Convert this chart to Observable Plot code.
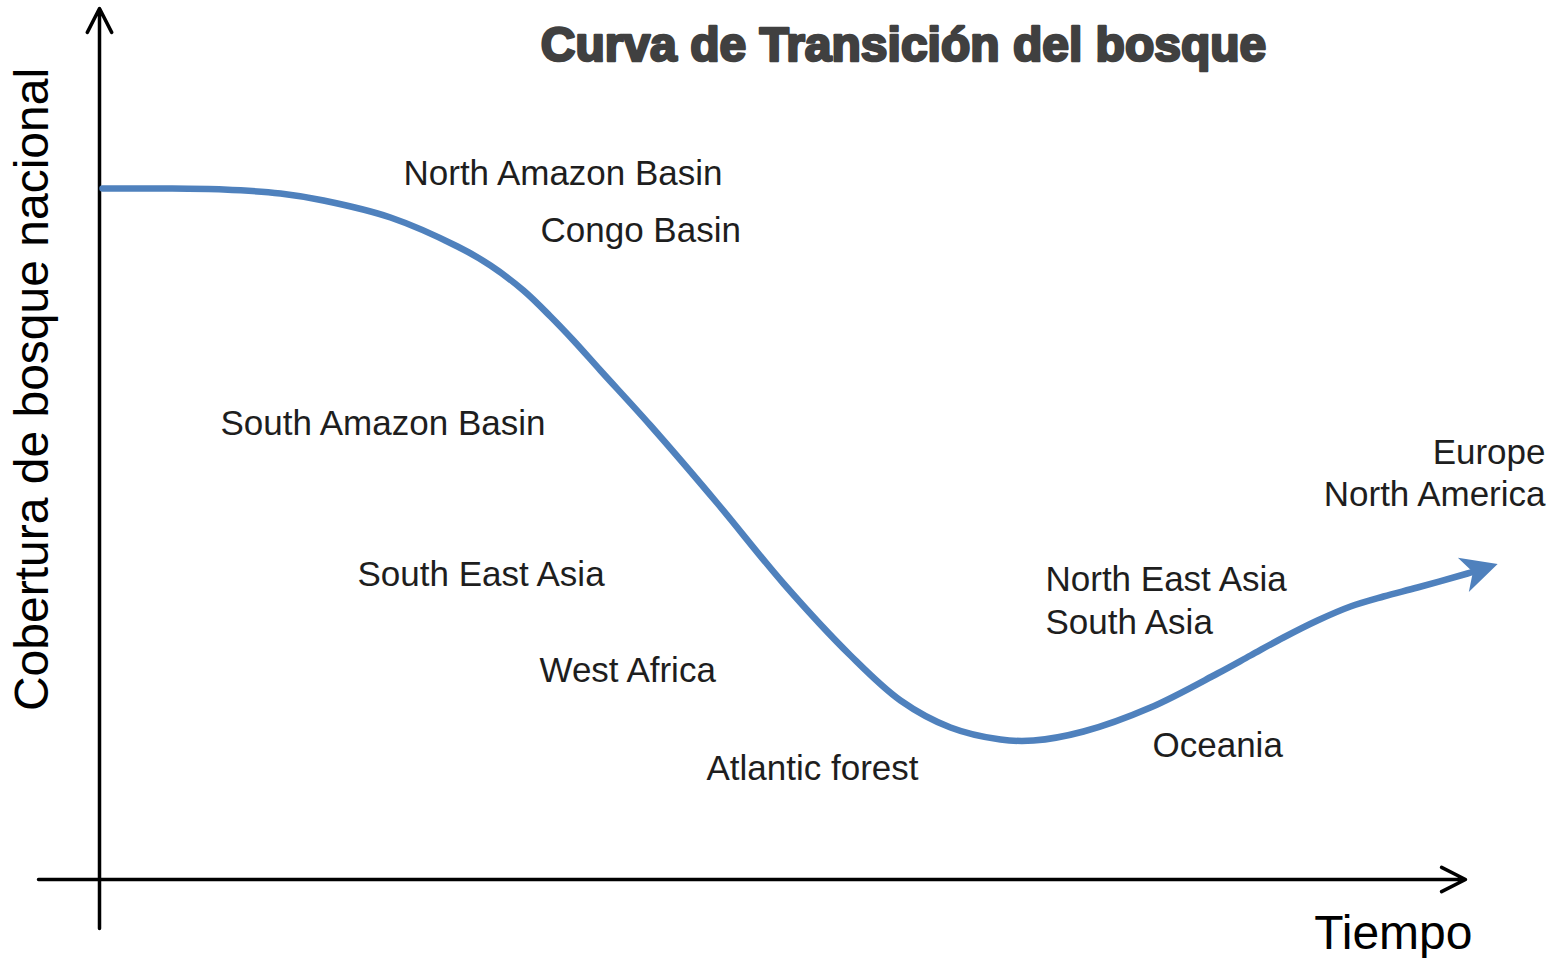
<!DOCTYPE html>
<html>
<head>
<meta charset="utf-8">
<script src="https://cdn.jsdelivr.net/npm/d3@7"></script>
<script src="https://cdn.jsdelivr.net/npm/@observablehq/plot@0.6"></script>
<style>
  html, body { margin: 0; padding: 0; background: #ffffff; }
  #chart svg { display: block; }
</style>
</head>
<body>
<div id="chart"></div>
<script>
// ---- Data (time from the vertical axis, forest cover above the horizontal axis) ----
const chartTitle = "Curva de Transición del bosque";
const yAxisTitle = "Cobertura de bosque nacional";
const xAxisTitle = "Tiempo";

// Forest transition curve
const curveTime  = [3, 61, 124, 181, 224, 291, 358, 391, 424, 451, 474, 501, 551, 618, 684, 751, 801, 851, 901, 934, 984, 1051, 1118, 1151, 1184, 1218, 1251, 1284, 1318, 1368, 1381];
const curveCover = [691, 691, 690, 686, 679, 662, 633, 614, 589, 563, 539, 509, 454, 376, 296, 224, 179, 152, 140, 139, 148, 172, 206, 224, 242, 259, 273, 283, 292, 306, 310];

// Region labels (left aligned)
const regionNames = ["North Amazon Basin", "Congo Basin", "South Amazon Basin", "South East Asia", "West Africa", "Atlantic forest", "North East Asia", "South Asia", "Oceania"];
const regionTime  = [304, 441, 121, 258, 440, 607, 946, 946, 1053];
const regionCover = [695, 638, 445, 294, 198, 100, 289, 246, 123];

// Region labels (right aligned)
const regionNamesRight = ["Europe", "North America"];
const regionTimeRight  = [1446, 1446];
const regionCoverRight = [416, 374];

// Axis extents
const axisTimeMin = -61, axisTimeMax = 1366;
const axisCoverMin = -49, axisCoverMax = 871;

// Title / axis title anchors
const titlePos = {t: 804, c: 819};
const yTitlePos = {t: -52, c: 490};
const xTitlePos = {t: 1373, c: -69};

// ---- Build tables ----
const curve = curveTime.map((t, i) => ({t, c: curveCover[i]}));
const labelsLeft = regionNames.map((name, i) => ({name, t: regionTime[i], c: regionCover[i]}));
const labelsRight = regionNamesRight.map((name, i) => ({name, t: regionTimeRight[i], c: regionCoverRight[i]}));
const axes = [
  {x1: 0, y1: axisCoverMin, x2: 0, y2: axisCoverMax},
  {x1: axisTimeMin, y1: 0, x2: axisTimeMax, y2: 0}
];

const blue = "#4f81bd";
const font = "'Liberation Sans', Arial, Helvetica, sans-serif";

// Filled, notched arrow head for the curve
function notchedArrow(color) {
  const m = d3.create("svg:marker")
    .attr("viewBox", "-25 -25 50 50")
    .attr("markerUnits", "userSpaceOnUse")
    .attr("markerWidth", 50)
    .attr("markerHeight", 50)
    .attr("refX", 0)
    .attr("refY", 0)
    .attr("orient", "auto")
    .attr("overflow", "visible");
  m.append("path")
    .attr("d", "M18,0 L-18,-18 L-8,0 L-18,18 Z")
    .attr("fill", color)
    .attr("stroke", "none");
  return m.node();
}

const plot = Plot.plot({
  width: 1554,
  height: 958,
  margin: 0,
  style: {fontFamily: font, background: "#ffffff", overflow: "visible"},
  x: {domain: [-99, 1455], axis: null},
  y: {domain: [-79, 879], axis: null},
  marks: [
    Plot.arrow(axes, {
      x1: "x1", y1: "y1", x2: "x2", y2: "y2",
      stroke: "#000000", strokeWidth: 3.5,
      headLength: 11.5, headAngle: 54
    }),
    Plot.line(curve, {
      x: "t", y: "c",
      stroke: blue, strokeWidth: 6.5,
      curve: "catmull-rom",
      markerEnd: notchedArrow
    }),
    Plot.text(labelsLeft, {
      x: "t", y: "c", text: "name",
      textAnchor: "start", lineAnchor: "bottom",
      fontSize: 35, fill: "#1e1e1e", fontFamily: font
    }),
    Plot.text(labelsRight, {
      x: "t", y: "c", text: "name",
      textAnchor: "end", lineAnchor: "bottom",
      fontSize: 35, fill: "#1e1e1e", fontFamily: font
    }),
    Plot.text([chartTitle], {
      x: () => titlePos.t, y: () => titlePos.c, text: d => d,
      textAnchor: "middle", lineAnchor: "bottom",
      fontSize: 48, fontWeight: "bold", fill: "#404040",
      stroke: "#404040", strokeWidth: 2.6, fontFamily: font
    }),
    Plot.text([yAxisTitle], {
      x: () => yTitlePos.t, y: () => yTitlePos.c, text: d => d,
      rotate: -90, textAnchor: "middle", lineAnchor: "bottom",
      fontSize: 48, fill: "#000000", fontFamily: font
    }),
    Plot.text([xAxisTitle], {
      x: () => xTitlePos.t, y: () => xTitlePos.c, text: d => d,
      textAnchor: "end", lineAnchor: "bottom",
      fontSize: 48, fill: "#000000", fontFamily: font
    })
  ]
});

document.getElementById("chart").appendChild(plot);
</script>
</body>
</html>
